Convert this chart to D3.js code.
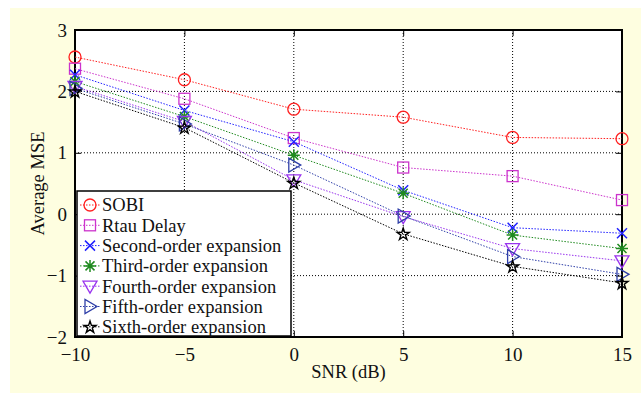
<!DOCTYPE html>
<html>
<head>
<meta charset="utf-8">
<script src="https://cdn.jsdelivr.net/npm/d3@7"></script>
<style>
body { margin: 0; background: #fff; }
svg text { font-family: "Liberation Serif", "Times New Roman", serif; fill: #111; }
</style>
</head>
<body>
<div id="chart"></div>
<script>
var snr = [-10, -5, 0, 5, 10, 15];

var sobi   = [2.56, 2.19, 1.71, 1.58, 1.25, 1.23];
var rtau   = [2.37, 1.88, 1.24, 0.76, 0.62, 0.23];
var second = [2.27, 1.69, 1.18, 0.39, -0.22, -0.31];
var third  = [2.16, 1.59, 0.96, 0.34, -0.34, -0.56];
var fourth = [2.08, 1.51, 0.56, -0.04, -0.56, -0.76];
var fifth  = [2.05, 1.47, 0.80, -0.03, -0.69, -0.98];
var sixth  = [2.00, 1.41, 0.51, -0.32, -0.85, -1.12];

var names  = ["SOBI", "Rtau Delay", "Second-order expansion", "Third-order expansion",
              "Fourth-order expansion", "Fifth-order expansion", "Sixth-order expansion"];
var colors = ["#ff2020", "#cc33cc", "#2222ff", "#1f8a1f", "#9933ee", "#2f3fa8", "#000000"];
var shapes = ["circle", "square", "x", "star6", "tridown", "triright", "star"];
var allSeries = [sobi, rtau, second, third, fourth, fifth, sixth];

var xTicks = [-10, -5, 0, 5, 10, 15];
var yTicks = [-2, -1, 0, 1, 2, 3];

var W = 641, H = 394;
var m = {left: 75, top: 30, right: 622, bottom: 337};

var svg = d3.select("#chart").append("svg")
  .attr("width", W)
  .attr("height", H);

svg.append("rect")
  .attr("x", 10).attr("y", 8)
  .attr("width", W - 10).attr("height", 385)
  .style("fill", "#fefee0");

svg.append("rect")
  .attr("x", m.left).attr("y", m.top)
  .attr("width", m.right - m.left).attr("height", m.bottom - m.top)
  .style("fill", "#fff");

var x = d3.scaleLinear().domain([-10, 15]).range([m.left, m.right]);
var y = d3.scaleLinear().domain([-2, 3]).range([m.bottom, m.top]);

// grid
var grid = svg.append("g");
xTicks.slice(1, -1).forEach(function(t) {
  grid.append("line")
    .attr("x1", x(t)).attr("x2", x(t))
    .attr("y1", m.top).attr("y2", m.bottom)
    .attr("stroke", "#000").attr("stroke-width", 1)
    .attr("stroke-dasharray", "1,2");
});
yTicks.slice(1, -1).forEach(function(t) {
  grid.append("line")
    .attr("x1", m.left).attr("x2", m.right)
    .attr("y1", y(t)).attr("y2", y(t))
    .attr("stroke", "#000").attr("stroke-width", 1)
    .attr("stroke-dasharray", "1,2");
});

var fmt = function(d) { return d < 0 ? "\u2212" + Math.abs(d) : d; };

// axes with inner ticks
var axB = svg.append("g").attr("transform", "translate(0," + m.bottom + ")")
  .call(d3.axisBottom(x).tickValues(xTicks).tickSizeInner(-6).tickSizeOuter(0).tickFormat(fmt));
var axL = svg.append("g").attr("transform", "translate(" + m.left + ",0)")
  .call(d3.axisLeft(y).tickValues(yTicks).tickSizeInner(-6).tickSizeOuter(0).tickFormat(fmt));
var axT = svg.append("g").attr("transform", "translate(0," + m.top + ")")
  .call(d3.axisTop(x).tickValues(xTicks).tickSizeInner(-6).tickSizeOuter(0).tickFormat(""));
var axR = svg.append("g").attr("transform", "translate(" + m.right + ",0)")
  .call(d3.axisRight(y).tickValues(yTicks).tickSizeInner(-6).tickSizeOuter(0).tickFormat(""));

[axB, axL, axT, axR].forEach(function(a) {
  a.select(".domain").remove();
  a.selectAll("line").attr("stroke", "#000");
  a.selectAll("text").style("font-size", "19px").attr("fill", "#111");
});
axB.selectAll("text").attr("y", 11).attr("dy", "0.71em");
axL.selectAll("text").attr("x", -8);

svg.append("rect")
  .attr("x", m.left).attr("y", m.top)
  .attr("width", m.right - m.left).attr("height", m.bottom - m.top)
  .style("fill", "none").attr("stroke", "#000").attr("stroke-width", 2);

svg.append("text")
  .attr("x", (m.left + m.right) / 2).attr("y", 378)
  .style("text-anchor", "middle").style("font-size", "18.5px")
  .text("SNR (dB)");

svg.append("text")
  .attr("transform", "translate(44," + ((m.top + m.bottom) / 2) + ")rotate(-90)")
  .style("text-anchor", "middle").style("font-size", "18.5px")
  .text("Average MSE");

function drawMarker(g, shape, cx, cy, color) {
  var s = 6;
  if (shape == "circle") {
    g.append("circle").attr("cx", cx).attr("cy", cy).attr("r", s)
      .attr("fill", "none").attr("stroke", color).attr("stroke-width", 1.3);
  } else if (shape == "square") {
    g.append("rect").attr("x", cx - 5.5).attr("y", cy - 5.5).attr("width", 11).attr("height", 11)
      .attr("fill", "none").attr("stroke", color).attr("stroke-width", 1.3);
  } else if (shape == "x") {
    g.append("path")
      .attr("d", "M" + (cx - 5) + "," + (cy - 5) + "L" + (cx + 5) + "," + (cy + 5) +
        "M" + (cx - 5) + "," + (cy + 5) + "L" + (cx + 5) + "," + (cy - 5))
      .attr("stroke", color).attr("stroke-width", 1.5);
  } else if (shape == "star6") {
    g.append("path")
      .attr("d", "M" + (cx - 6) + "," + cy + "L" + (cx + 6) + "," + cy +
        "M" + cx + "," + (cy - 6) + "L" + cx + "," + (cy + 6) +
        "M" + (cx - 4.5) + "," + (cy - 4.5) + "L" + (cx + 4.5) + "," + (cy + 4.5) +
        "M" + (cx - 4.5) + "," + (cy + 4.5) + "L" + (cx + 4.5) + "," + (cy - 4.5))
      .attr("stroke", color).attr("stroke-width", 1.5);
  } else if (shape == "tridown") {
    g.append("path")
      .attr("d", "M" + (cx - 7) + "," + (cy - 5) + "L" + (cx + 7) + "," + (cy - 5) +
        "L" + cx + "," + (cy + 7) + "Z")
      .attr("fill", "none").attr("stroke", color).attr("stroke-width", 1.3);
  } else if (shape == "triright") {
    g.append("path")
      .attr("d", "M" + (cx - 5) + "," + (cy - 7) + "L" + (cx - 5) + "," + (cy + 7) +
        "L" + (cx + 7) + "," + cy + "Z")
      .attr("fill", "none").attr("stroke", color).attr("stroke-width", 1.3);
  } else if (shape == "star") {
    g.append("path")
      .attr("d", d3.symbol().type(d3.symbolStar).size(45)())
      .attr("transform", "translate(" + cx + "," + (cy + 0.5) + ")")
      .attr("fill", "none").attr("stroke", color).attr("stroke-width", 1.4);
  }
}

var line = d3.line()
  .x(function(d, i) { return x(snr[i]); })
  .y(function(d) { return y(d); });

allSeries.forEach(function(vals, k) {
  var g = svg.append("g");
  g.append("path").datum(vals)
    .attr("d", line)
    .attr("fill", "none")
    .attr("stroke", colors[k])
    .attr("stroke-width", 1)
    .attr("stroke-dasharray", "1.5,1.5");
  vals.forEach(function(v, i) {
    drawMarker(g, shapes[k], x(snr[i]), y(v), colors[k]);
  });
});

// legend
var lg = svg.append("g");
lg.append("rect")
  .attr("x", 77).attr("y", 191)
  .attr("width", 214).attr("height", 145)
  .style("fill", "#fff").attr("stroke", "#000").attr("stroke-width", 1.5);

names.forEach(function(n, i) {
  var ly = 205 + i * 20.3;
  lg.append("line")
    .attr("x1", 80).attr("x2", 100).attr("y1", ly).attr("y2", ly)
    .attr("stroke", colors[i]).attr("stroke-dasharray", "1.5,1.5");
  drawMarker(lg, shapes[i], 90, ly, colors[i]);
  lg.append("text")
    .attr("x", 102).attr("y", ly).attr("dy", "0.35em")
    .style("font-size", "18.5px")
    .text(n);
});
</script>
</body>
</html>
